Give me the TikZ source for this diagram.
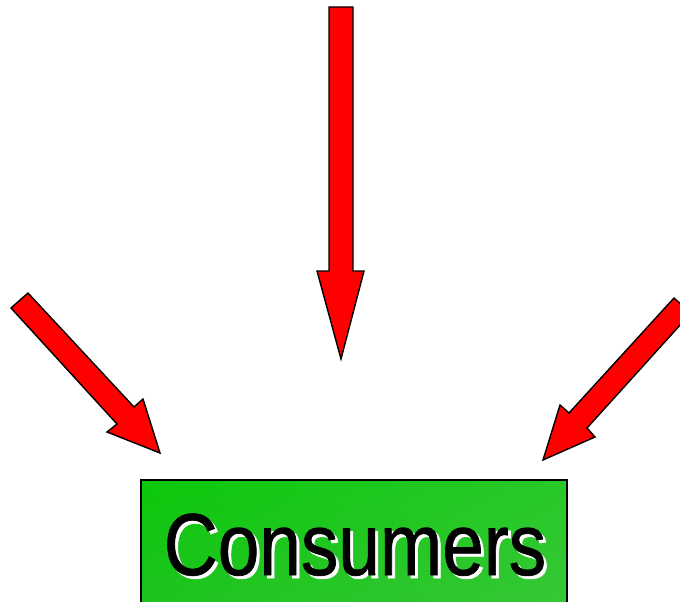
\documentclass[tikz,border=0pt]{standalone}
\usepackage{fontspec}
\usetikzlibrary{shadings}
\setmainfont{Liberation Sans}
\newfontfamily\narrowfont[FakeStretch=0.85,FakeBold=0.8]{Liberation Sans}
\definecolor{arrowred}{RGB}{255,0,0}
\definecolor{gUL}{RGB}{12,200,12}
\definecolor{gUR}{RGB}{40,200,40}
\definecolor{gLL}{RGB}{30,195,30}
\definecolor{gLR}{RGB}{55,200,55}
\begin{document}
\begin{tikzpicture}[x=1pt,y=-1pt,
  blockarrow/.style={fill=arrowred,draw=black,line width=1.4pt,line join=miter},
  boxstyle/.style={draw=black,line width=1.4pt},
  labeltext/.style={font=\narrowfont\fontsize{88}{88}\selectfont,inner sep=0pt,anchor=base}]
\useasboundingbox (0,0) rectangle (680,602);
\clip (0,0) rectangle (680,602);
% box
\shade[upper left=gUL,upper right=gUR,lower left=gLL,lower right=gLR]
  (141,480) rectangle (567,612);
\draw[boxstyle] (141,612) -- (141,480) -- (567,480) -- (567,612);
\coordinate (boxc) at (354,546);
\node[labeltext,text=white] (shadow) at (358,578) {Consumers};
\node[labeltext,text=black] (label) at (355,575) {Consumers};
% arrows
\draw[blockarrow] (329,7) -- (353,7) -- (353,271) -- (364,271) -- (341,359) -- (317,271) -- (329,271) -- cycle;
\draw[blockarrow] (11,308) -- (28,293) -- (134,407) -- (143,399) -- (160,453) -- (107,432) -- (117,424) -- cycle;
\draw[blockarrow] (674,298) -- (691,313) -- (587,428) -- (595,437) -- (543,460) -- (560,405) -- (569,413) -- cycle;
\end{tikzpicture}
\end{document}
